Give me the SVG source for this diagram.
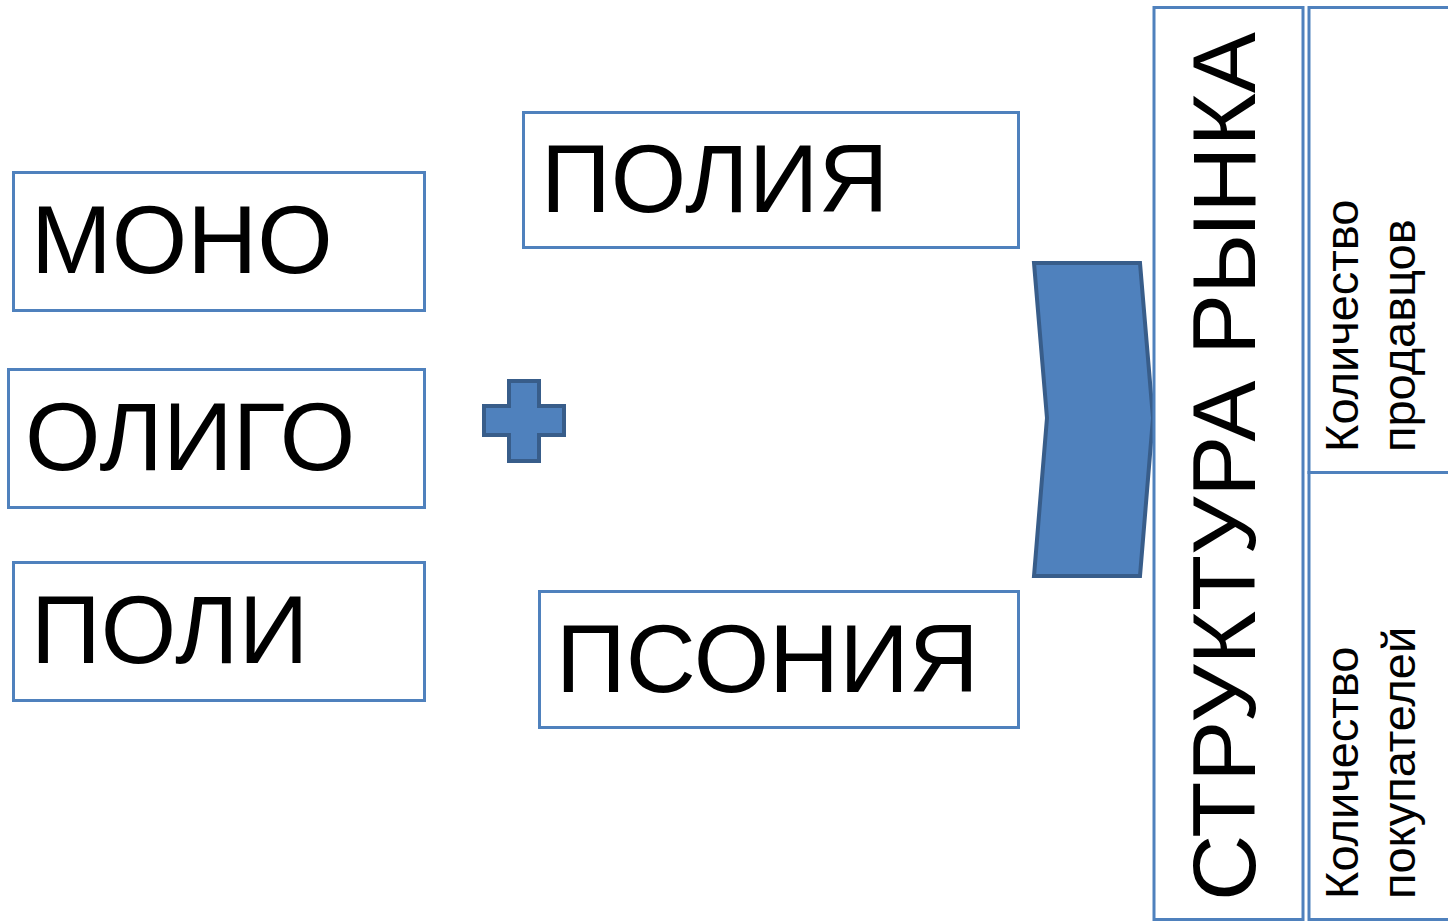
<svg xmlns="http://www.w3.org/2000/svg" width="1448" height="922" viewBox="0 0 1448 922">
<style>
.box{fill:#fff;stroke:#4F81BD;stroke-width:3}
.big{font-family:"Liberation Sans",Arial,sans-serif;font-size:97px;fill:#000}
.title{font-family:"Liberation Sans",Arial,sans-serif;font-size:89px;fill:#000}
.small{font-family:"Liberation Sans",Arial,sans-serif;font-size:47px;fill:#000}
.shape{fill:#4F81BD;stroke:#385D8A;stroke-width:4}
</style>
<rect width="1448" height="922" fill="#fff"/>
<g id="mono"><rect class="box" x="13.5" y="172.5" width="411" height="138"/><text class="big" x="31" y="273">МОНО</text></g>
<g id="oligo"><rect class="box" x="8.5" y="369.5" width="416" height="138"/><text class="big" x="25" y="470">ОЛИГО</text></g>
<g id="poli"><rect class="box" x="13.5" y="562.5" width="411" height="138"/><text class="big" x="31" y="663">ПОЛИ</text></g>
<g id="plus"><polygon class="shape" points="509,381 539,381 539,406 564,406 564,435 539,435 539,461 509,461 509,435 484,435 484,406 509,406"/></g>
<g id="poliya"><rect class="box" x="523.5" y="112.5" width="495" height="135"/><text class="big" x="541" y="212">ПОЛИЯ</text></g>
<g id="psoniya"><rect class="box" x="539.5" y="591.5" width="479" height="136"/><text class="big" x="556" y="692">ПСОНИЯ</text></g>
<g id="connectors"><polygon class="shape" points="1034,263 1140,263 1153,418 1140,576 1034,576 1047,418"/></g>
<g id="structure"><rect class="box" x="1154" y="7.5" width="149" height="912"/><text class="title" transform="translate(1255,901) rotate(-90)" textLength="869" lengthAdjust="spacingAndGlyphs">СТРУКТУРА РЫНКА</text></g>
<g id="sellers"><rect class="box" x="1309" y="7.5" width="160" height="465"/><text class="small" transform="translate(1358,452) rotate(-90)">Количество</text><text class="small" transform="translate(1415,452) rotate(-90)">продавцов</text></g>
<g id="buyers"><rect class="box" x="1309" y="472.5" width="160" height="447"/><text class="small" transform="translate(1358,899) rotate(-90)">Количество</text><text class="small" transform="translate(1415,899) rotate(-90)">покупателей</text></g>
</svg>
